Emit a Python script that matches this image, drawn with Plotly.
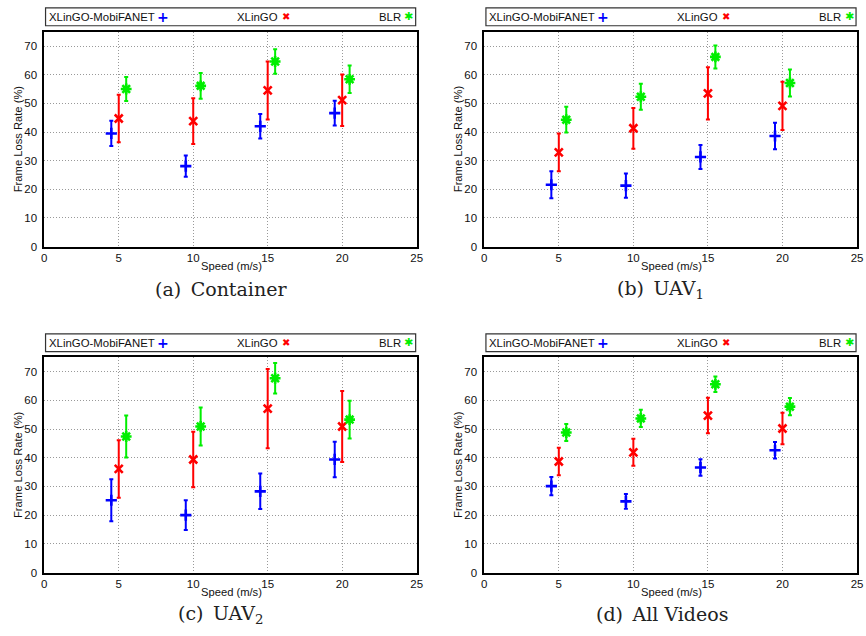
import plotly.graph_objects as go

W, H = 866, 636

# ---- data -------------------------------------------------------------
series_names = ["XLinGO-MobiFANET", "XLinGO", "BLR"]
mobi_x = [4.5, 9.5, 14.5, 19.5]
xlingo_x = [5, 10, 15, 20]
blr_x = [5.5, 10.5, 15.5, 20.5]
x_ticks = [0, 5, 10, 15, 20, 25]
y_ticks = [0, 10, 20, 30, 40, 50, 60, 70]

# (a) Container
container_mobi = [39.5, 28.1, 42.0, 46.6]
container_mobi_err = [4.4, 3.7, 4.3, 4.3]
container_xlingo = [44.7, 43.8, 54.5, 51.1]
container_xlingo_err = [8.3, 8.0, 10.1, 9.0]
container_blr = [55.0, 56.1, 64.6, 58.4]
container_blr_err = [4.2, 4.5, 4.3, 4.8]

# (b) UAV1
uav1_mobi = [21.6, 21.3, 31.3, 38.6]
uav1_mobi_err = [4.7, 4.2, 4.2, 4.6]
uav1_xlingo = [32.9, 41.3, 53.5, 49.1]
uav1_xlingo_err = [6.6, 7.1, 9.1, 8.4]
uav1_blr = [44.3, 52.3, 66.2, 57.1]
uav1_blr_err = [4.5, 4.5, 4.0, 4.7]

# (c) UAV2
uav2_mobi = [25.2, 20.0, 28.3, 39.4]
uav2_mobi_err = [7.3, 5.2, 6.2, 6.2]
uav2_xlingo = [36.1, 39.4, 57.1, 50.9]
uav2_xlingo_err = [10.0, 9.7, 13.8, 12.4]
uav2_blr = [47.4, 50.9, 67.7, 53.3]
uav2_blr_err = [7.3, 6.6, 5.3, 6.6]

# (d) All Videos
all_mobi = [30.1, 24.8, 36.6, 42.6]
all_mobi_err = [3.2, 2.6, 2.9, 2.9]
all_xlingo = [38.7, 41.9, 54.7, 50.2]
all_xlingo_err = [4.8, 4.7, 6.2, 5.5]
all_blr = [48.8, 53.7, 65.6, 57.8]
all_blr_err = [3.0, 3.0, 2.7, 3.0]

captions = ["(a)\u2002Container", "(b)\u2002UAV<sub>1</sub>",
            "(c)\u2002UAV<sub>2</sub>", "(d)\u2002All Videos"]

# ---- styling / geometry ----------------------------------------------
colors = ["#0000ff", "#ff0000", "#00ee00"]
symbols = ["cross-thin", "x-thin", "asterisk"]
msizes = [8, 8, 9]

# plot areas in pixels: (left, right, top, bottom)
plot_px = [(41.7, 418, 32, 249), (486.3, 863, 32, 249),
           (41.7, 418, 360.7, 578), (486.3, 863, 360.7, 578)]
legend_px = [(43, 417, 8, 26), (488, 862, 8, 26),
             (43, 417, 337, 355), (488, 862, 337, 355)]
caption_px = [(220.5, 292), (664, 292), (220, 620), (665.5, 620)]

panels = [
    (container_mobi, container_mobi_err, container_xlingo, container_xlingo_err,
     container_blr, container_blr_err),
    (uav1_mobi, uav1_mobi_err, uav1_xlingo, uav1_xlingo_err, uav1_blr, uav1_blr_err),
    (uav2_mobi, uav2_mobi_err, uav2_xlingo, uav2_xlingo_err, uav2_blr, uav2_blr_err),
    (all_mobi, all_mobi_err, all_xlingo, all_xlingo_err, all_blr, all_blr_err),
]


def px_x(v):
    return v / W


def px_y(v):
    return 1 - v / H


fig = go.Figure()
annotations = []
shapes = []
layout_axes = {}

xs_list = [mobi_x, xlingo_x, blr_x]
tick_font = dict(family="Liberation Sans", size=11.5, color="#111")
title_font = dict(family="Liberation Sans", size=11.2, color="#111")
legend_font = dict(family="Liberation Sans", size=11.4, color="#111")

for i, pdata in enumerate(panels):
    n = "" if i == 0 else str(i + 1)
    xa, ya = "x" + n, "y" + n
    for s in range(3):
        fig.add_trace(go.Scatter(
            x=xs_list[s], y=pdata[2 * s], xaxis=xa, yaxis=ya,
            mode="markers", name=series_names[s], showlegend=False,
            marker=dict(symbol=symbols[s], size=msizes[s], color=colors[s],
                        line=dict(color=colors[s], width=2.6)),
            error_y=dict(type="data", array=pdata[2 * s + 1], visible=True,
                         color=colors[s], thickness=2, width=2),
        ))
    l, r, t, b = plot_px[i]
    common = dict(showgrid=True, gridcolor="#999999", griddash="1px,2px",
                  gridwidth=1, zeroline=False, showline=True, mirror=True,
                  linecolor="black", linewidth=1.6, ticks="", tickfont=tick_font)
    layout_axes["xaxis" + n] = dict(
        domain=[px_x(l), px_x(r)], anchor=ya, range=[0, 25],
        tickvals=x_ticks, **common)
    layout_axes["yaxis" + n] = dict(
        domain=[px_y(b), px_y(t)], anchor=xa, range=[0, 75],
        tickvals=y_ticks, ticklabelstandoff=3, **common)
    # axis titles
    annotations.append(dict(
        x=px_x((l + r) / 2 + 1), y=px_y(b + 19.5), xref="paper", yref="paper",
        text="Speed (m/s)", showarrow=False, xanchor="center", yanchor="middle",
        font=title_font))
    annotations.append(dict(
        x=px_x(l - 26.5), y=px_y((t + b) / 2), xref="paper", yref="paper",
        text="Frame Loss Rate (%)", showarrow=False, textangle=-90,
        xanchor="center", yanchor="middle", font=title_font))
    # legend box
    ll, lr, lt, lb = legend_px[i]
    shapes.append(dict(type="rect", xref="paper", yref="paper",
                       x0=px_x(ll), x1=px_x(lr), y0=px_y(lb), y1=px_y(lt),
                       line=dict(color="#333", width=1.2), fillcolor="rgba(0,0,0,0)"))
    cy = px_y((lt + lb) / 2)
    annotations.append(dict(x=px_x(ll + 1.5), y=cy, xref="paper", yref="paper",
                            text=series_names[0], showarrow=False,
                            xanchor="left", yanchor="middle", font=legend_font))
    annotations.append(dict(x=px_x(ll + 237), y=cy, xref="paper", yref="paper",
                            text=series_names[1], showarrow=False,
                            xanchor="right", yanchor="middle", font=legend_font))
    annotations.append(dict(x=px_x(ll + 361), y=cy, xref="paper", yref="paper",
                            text=series_names[2], showarrow=False,
                            xanchor="right", yanchor="middle", font=legend_font))
    glyphs = ["+", "\u2716", "\u2731"]
    gsizes = [14, 10, 11]
    gweights = ["bold", "normal", "normal"]
    gx = [ll + 118.5, ll + 243, ll + 367]
    for s in range(3):
        annotations.append(dict(x=px_x(gx[s]), y=cy, xref="paper", yref="paper",
                                text=glyphs[s], showarrow=False,
                                xanchor="center", yanchor="middle",
                                font=dict(family="DejaVu Sans", size=gsizes[s],
                                          weight=gweights[s], color=colors[s])))
    # caption
    cxp, cyp = caption_px[i]
    annotations.append(dict(x=px_x(cxp), y=px_y(cyp), xref="paper", yref="paper",
                            text=captions[i], showarrow=False,
                            xanchor="center", yanchor="middle",
                            font=dict(family="DejaVu Serif", size=19, color="#222")))

fig.update_layout(
    width=W, height=H, margin=dict(l=0, r=0, t=0, b=0),
    paper_bgcolor="white", plot_bgcolor="white",
    showlegend=False, annotations=annotations, shapes=shapes,
    **layout_axes,
)

fig.write_html("out.html",
               config={"displayModeBar": False},
               post_script="document.body.style.margin='0';"
                           "document.body.style.overflow='hidden';")
